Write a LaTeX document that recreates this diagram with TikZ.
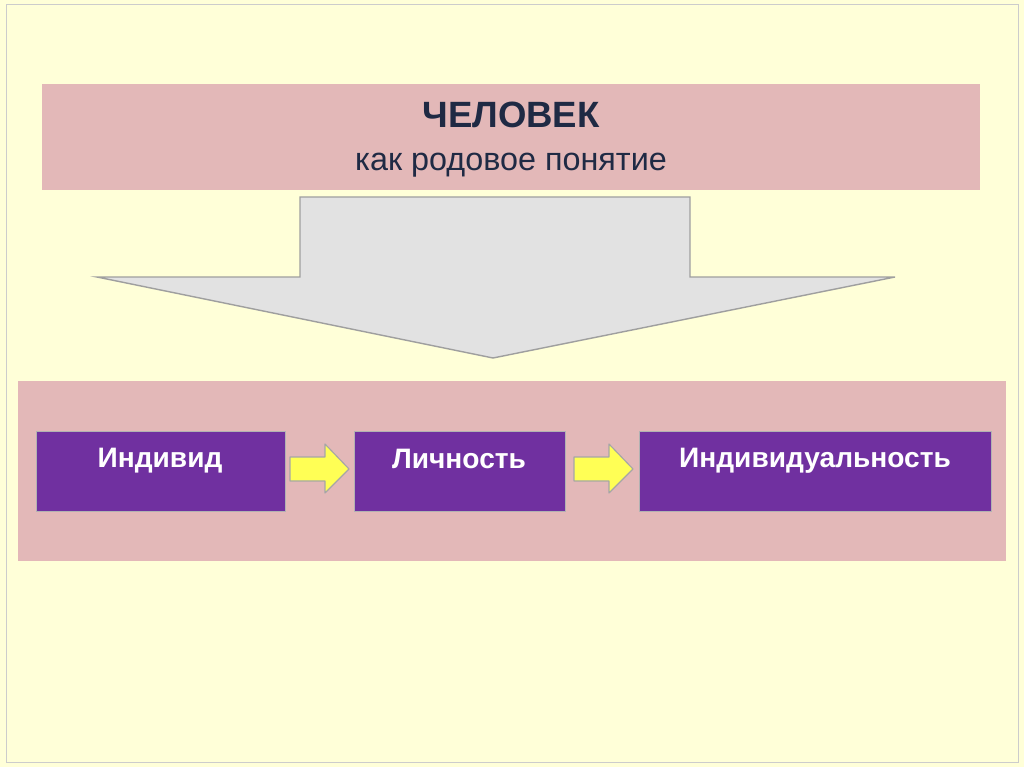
\documentclass[tikz,border=0pt]{standalone}
\usepackage{fontspec}
\setmainfont{Liberation Sans}
\definecolor{bg}{HTML}{FFFFD8}
\definecolor{pinkb}{HTML}{E3B8B8}
\definecolor{purp}{HTML}{7030A0}
\definecolor{navy}{HTML}{1F2A44}
\definecolor{arrg}{HTML}{E2E2E2}
\definecolor{yel}{HTML}{FFFF55}
\begin{document}
\begin{tikzpicture}[x=0.025cm,y=-0.025cm,
  band/.style={fill=pinkb,draw=none},
  pbox/.style={fill=purp,draw=gray!60,line width=0.6pt},
  ptext/.style={text=white,font=\bfseries\fontsize{20}{24}\selectfont,anchor=center},
  yarrow/.style={fill=yel,draw=gray!70,line width=0.8pt,line join=round}]
\useasboundingbox (0,0) rectangle (1024,767);
\fill[bg] (0,0) rectangle (1024,767);
\draw[gray!40] (6,4) rectangle (1018,762);
\fill[band] (42,84) rectangle (980,190);
\node[text=navy,font=\bfseries\fontsize{26}{30}\selectfont] (t1) at (511,115) {ЧЕЛОВЕК};
\node[text=navy,font=\fontsize{23}{27}\selectfont] (t2) at (511,165) {как родовое понятие};
\draw[fill=arrg,draw=gray!75,line width=1pt,line join=miter]
 (300,197) -- (690,197) -- (690,277) -- (895,277) -- (493,358) -- (97,277) -- (300,277) -- cycle;
\fill[band] (18,381) rectangle (1006,561);
\draw[pbox] (36,431) rectangle (285,511);
\draw[pbox] (354,431) rectangle (565,511);
\draw[pbox] (639,431) rectangle (991,511);
\node[ptext] (a) at (160,461) {Индивид};
\node[ptext] (b) at (459,459) {Личность};
\node[ptext] (c) at (815,461) {Индивидуальность};
\draw[yarrow] (290,457) -- (325,457) -- (325,444) -- (349,469) -- (325,493) -- (325,481) -- (290,481) -- cycle;
\draw[yarrow] (574,457) -- (609,457) -- (609,444) -- (633,469) -- (609,493) -- (609,481) -- (574,481) -- cycle;
\end{tikzpicture}
\end{document}
